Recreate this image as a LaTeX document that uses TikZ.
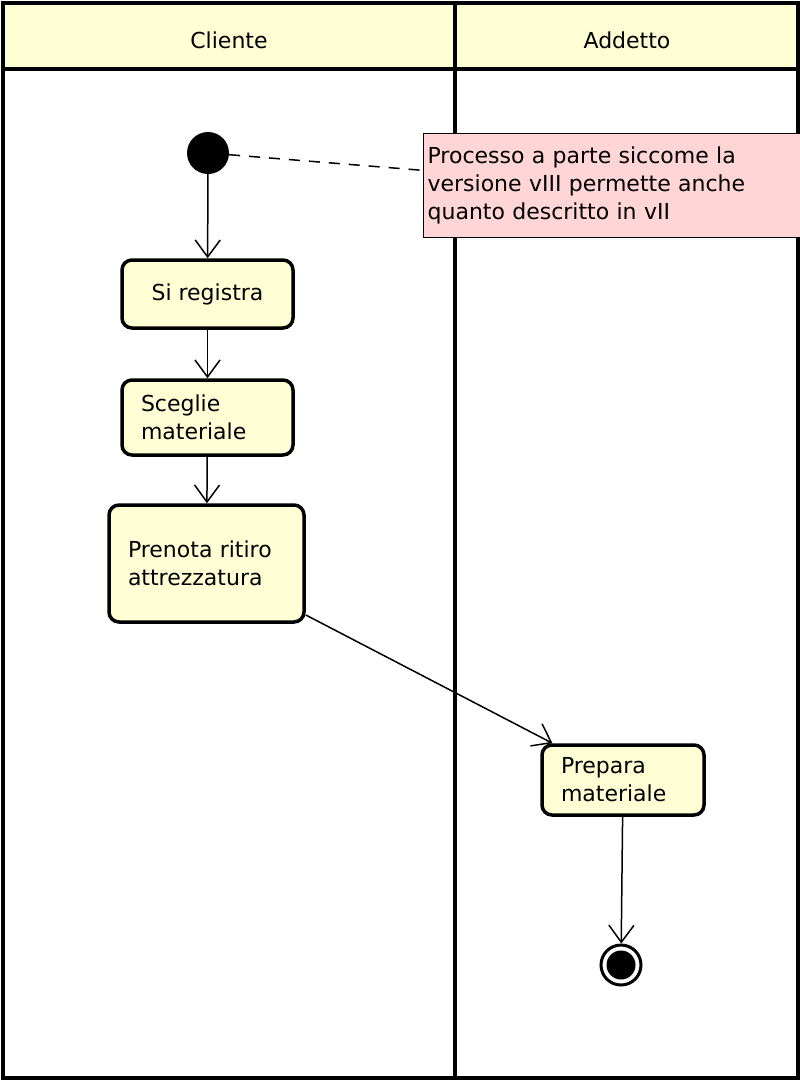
\documentclass[tikz,border=0pt]{standalone}
\usepackage{fontspec}
\setmainfont{DejaVu Sans}
\usetikzlibrary{arrows.meta}

\definecolor{actfill}{RGB}{255,255,214}
\definecolor{notefill}{RGB}{255,213,213}

\begin{document}
\begin{tikzpicture}[x=1pt,y=-1pt,
    every node/.style={font=\fontsize{22}{28}\selectfont},
    lane/.style={line width=3.5pt},
    act/.style={draw, line width=3.5pt, fill=actfill, rounded corners=10pt,
      inner xsep=19pt, inner ysep=0pt},
    flow/.style={line width=1.5pt, -{Straight Barb[length=17pt,width=25pt,line width=1.5pt]}},
    initstate/.style={circle, fill=black, minimum size=42pt, inner sep=0pt},
    finalstate/.style={circle, draw, line width=3pt, fill=white, minimum size=40pt,
      inner sep=0pt, path picture={\fill[black] (path picture bounding box.center) circle (14.5);}}
  ]
    \useasboundingbox (0,0) rectangle (800,1080);

    % swimlanes
    \fill[actfill] (3,3) rectangle (798,69);
    \draw[lane] (3,3) rectangle (798,1078);
    \draw[lane] (3,69) -- (798,69);
    \draw[lane] (455,3) -- (455,1078);
    \node (cliente) at (229,40) {Cliente};
    \node (addetto) at (627,40) {Addetto};

    % note
    \node[draw, line width=1.2pt, fill=notefill, align=left, anchor=north west,
      text width=369pt, minimum height=104pt, inner xsep=4pt, inner ysep=6pt]
      (nota) at (423,133) {Processo a parte siccome la\\versione vIII permette anche\\quanto descritto in vII\par};

    % states
    \node[initstate] (start) at (208,153) {};
    \node[act, minimum width=171pt, minimum height=68pt] (registra) at (207.5,294) {Si registra};
    \node[act, text width=133pt, minimum height=75pt, align=left] (sceglie) at (207.5,417.5) {Sceglie\\materiale};
    \node[act, text width=157pt, minimum height=117pt, align=left] (prenota) at (206.5,563.5) {Prenota ritiro\\attrezzatura};
    \node[act, text width=124pt, minimum height=70pt, align=left] (prepara) at (623,780) {Prepara\\materiale};
    \node[finalstate] (fine) at (621,965) {};

    \draw[line width=1.5pt, dash pattern=on 11pt off 9pt] (start) -- (nota);
    \draw[flow] (start) -- (registra);
    \draw[flow] (registra) -- (sceglie);
    \draw[flow] (sceglie) -- (prenota);
    \draw[flow] (prenota) -- (prepara);
    \draw[flow] (prepara) -- (fine);
\end{tikzpicture}
\end{document}
